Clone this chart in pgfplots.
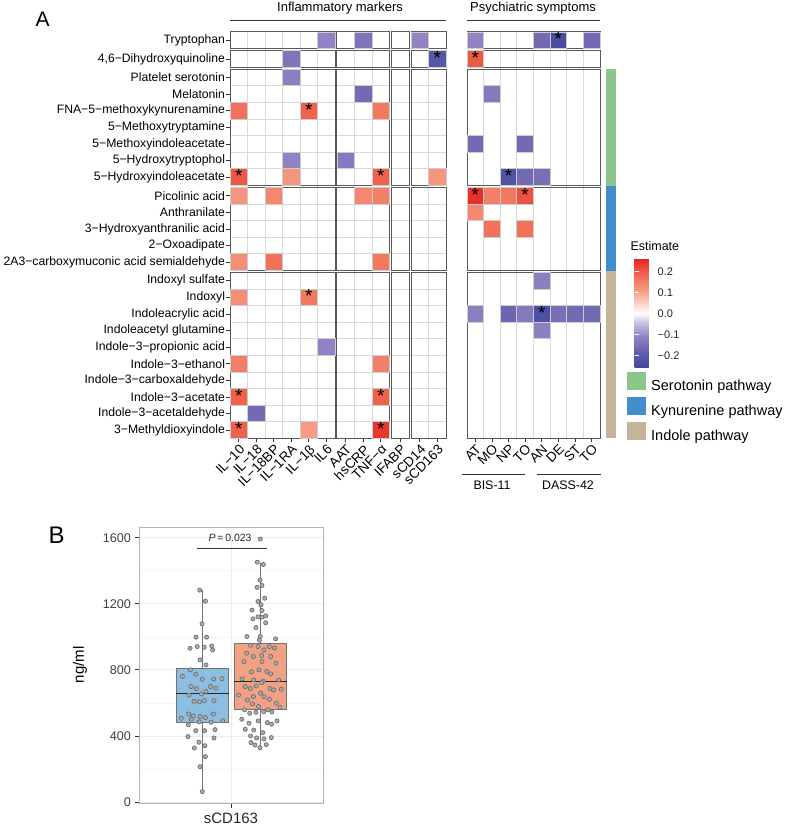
\documentclass[border=0pt]{standalone}
\usepackage{pgfplots}
\usepackage{pgfplotstable}
\pgfplotsset{compat=1.18}
\usepackage{fontspec}
\setmainfont{Liberation Sans}
\newcommand{\fsz}[1]{\fontsize{#1}{#1}\selectfont}
\definecolor{pgreen}{RGB}{141,198,139}
\definecolor{pblue}{RGB}{66,142,204}
\definecolor{ptan}{RGB}{196,181,153}
\definecolor{boxblue}{RGB}{139,190,225}
\definecolor{boxorange}{RGB}{242,162,132}
\pgfplotsset{colormap={est}{rgb255(0pt)=(62,72,157) rgb255(1.5pt)=(100,95,172) rgb255(3pt)=(150,135,198) rgb255(4.2pt)=(205,195,228) rgb255(5pt)=(255,255,255) rgb255(5.8pt)=(252,215,205) rgb255(7pt)=(246,160,138) rgb255(8.5pt)=(240,105,80) rgb255(10pt)=(232,37,37)}}
\pgfdeclareplotmark{cellL}{\pgfpathrectangle{\pgfpoint{-8.75pt}{-8.3pt}}{\pgfpoint{17.5pt}{16.6pt}}\pgfusepathqfillstroke}
\pgfdeclareplotmark{cellR}{\pgfpathrectangle{\pgfpoint{-8.3pt}{-8.3pt}}{\pgfpoint{16.6pt}{16.6pt}}\pgfusepathqfillstroke}
\newcommand{\fr}[4]{\draw[black!65, line width=1pt] (axis cs:#1,#3) rectangle (axis cs:#2,#4);}

\pgfplotstableread{
x y v
5.5 23.98 -0.11
7.614 23.98 -0.14
10.843 23.98 -0.11
3.5 22.86 -0.14
11.843 22.86 -0.21
3.5 21.74 -0.12
7.614 20.74 -0.16
0.5 19.74 0.17
4.5 19.74 0.19
8.614 19.74 0.16
3.5 16.74 -0.11
6.614 16.74 -0.13
0.5 15.74 0.20
3.5 15.74 0.12
8.614 15.74 0.19
11.843 15.74 0.12
0.5 14.62 0.12
2.5 14.62 0.14
7.614 14.62 0.14
8.614 14.62 0.15
0.5 10.62 0.13
2.5 10.62 0.17
8.614 10.62 0.16
0.5 8.5 0.13
4.5 8.5 0.16
5.5 5.5 -0.11
0.5 4.5 0.15
8.614 4.5 0.15
0.5 2.5 0.19
8.614 2.5 0.19
1.5 1.5 -0.16
0.5 0.5 0.19
4.5 0.5 0.11
8.614 0.5 0.24
}\leftdata
\pgfplotstableread{
x y
11.843 22.86
4.5 19.74
0.5 15.74
8.614 15.74
4.5 8.5
0.5 2.5
8.614 2.5
0.5 0.5
8.614 0.5
}\leftstars
\pgfplotstableread{
x y v
0.5 23.98 -0.11
4.5 23.98 -0.16
5.5 23.98 -0.24
7.5 23.98 -0.16
0.5 22.86 0.20
1.5 20.74 -0.13
0.5 17.74 -0.16
3.5 17.74 -0.16
2.5 15.74 -0.22
3.5 15.74 -0.16
4.5 15.74 -0.15
0.5 14.62 0.25
1.5 14.62 0.15
2.5 14.62 0.16
3.5 14.62 0.21
0.5 13.62 0.14
1.5 12.62 0.17
3.5 12.62 0.17
4.5 9.5 -0.12
0.5 7.5 -0.12
2.5 7.5 -0.17
3.5 7.5 -0.13
4.5 7.5 -0.23
5.5 7.5 -0.15
6.5 7.5 -0.16
7.5 7.5 -0.16
4.5 6.5 -0.12
}\rightdata
\pgfplotstableread{
x y
5.5 23.98
0.5 22.86
2.5 15.74
0.5 14.62
3.5 14.62
4.5 7.5
}\rightstars
\pgfplotstableread{
x y
0.796 1283
0.833 1216
0.811 1079
0.772 998
0.841 998
0.733 931
0.780 941
0.826 937
0.874 945
0.880 921
0.798 861
0.837 830
0.735 800
0.683 760
0.770 774
0.813 743
0.887 745
0.941 747
0.739 699
0.774 687
0.807 654
0.837 669
0.867 699
0.902 689
0.726 648
0.759 610
0.826 614
0.793 606
0.889 614
0.724 533
0.754 521
0.798 517
0.885 533
0.676 507
0.741 501
0.793 485
0.833 511
0.870 483
0.946 491
0.722 467
0.770 432
0.828 432
0.896 438
0.720 396
0.791 362
0.830 341
0.889 388
0.761 327
0.833 275
0.798 214
0.813 63
}\bluepts
\pgfplotstableread{
x y
1.191 1592
1.172 1452
1.211 1438
1.189 1343
1.202 1311
1.170 1299
1.176 1214
1.220 1234
1.196 1194
1.137 1162
1.202 1159
1.143 1109
1.176 1121
1.202 1119
1.226 1127
1.226 1085
1.163 1056
1.104 1002
1.191 1002
1.291 988
1.185 980
1.128 949
1.176 941
1.215 921
1.250 941
1.283 933
1.102 901
1.146 881
1.200 887
1.259 881
1.085 850
1.202 850
1.293 840
1.133 788
1.183 800
1.233 790
1.259 776
1.072 745
1.148 739
1.211 731
1.311 739
1.093 699
1.126 687
1.165 703
1.200 723
1.254 687
1.278 679
1.328 683
1.050 648
1.146 638
1.193 659
1.215 638
1.250 622
1.296 598
1.320 572
1.107 618
1.141 594
1.180 578
1.089 558
1.122 537
1.163 543
1.213 547
1.241 558
1.267 545
1.070 501
1.117 477
1.178 491
1.237 481
1.265 471
1.300 491
1.093 440
1.148 436
1.207 420
1.128 400
1.167 388
1.215 382
1.263 390
1.130 360
1.157 345
1.189 329
1.230 347
}\orangepts

\begin{document}
\begin{tikzpicture}
\path[use as bounding box, fill=white] (0,0) rectangle (784pt,832pt);

% ---------------- left heatmap ----------------
\begin{axis}[
  at={(230pt,393.6pt)}, anchor=south west,
  scale only axis, width=216pt, height=406.4pt,
  xmin=0, xmax=12.343, ymin=0, ymax=24.48,
  axis line style={draw=none}, clip=false,
  colormap name=est, point meta min=-0.26, point meta max=0.26,
  xtick={0.5,1.5,2.5,3.5,4.5,5.5,6.614,7.614,8.614,9.729,10.843,11.843},
  xticklabels={IL−10,IL−18,IL−18BP,IL−1RA,IL−1β,IL6,AAT,hsCRP,TNF−α,IFABP,sCD14,sCD163},
  ytick={0.5,1.5,2.5,3.5,4.5,5.5,6.5,7.5,8.5,9.5,10.62,11.62,12.62,13.62,14.62,15.74,16.74,17.74,18.74,19.74,20.74,21.74,22.86,23.98},
  yticklabels={3−Methyldioxyindole,Indole−3−acetaldehyde,Indole−3−acetate,Indole−3−carboxaldehyde,Indole−3−ethanol,Indole−3−propionic acid,Indoleacetyl glutamine,Indoleacrylic acid,Indoxyl,Indoxyl sulfate,2A3−carboxymuconic acid semialdehyde,2−Oxoadipate,3−Hydroxyanthranilic acid,Anthranilate,Picolinic acid,5−Hydroxyindoleacetate,5−Hydroxytryptophol,5−Methoxyindoleacetate,5−Methoxytryptamine,FNA−5−methoxykynurenamine,Melatonin,Platelet serotonin,{4,6−Dihydroxyquinoline},Tryptophan},
  minor xtick={1,2,3,4,5,7.114,8.114,11.343},
  minor ytick={1,2,3,4,5,6,7,8,9,11.12,12.12,13.12,14.12,16.24,17.24,18.24,19.24,20.24,21.24},
  xminorgrids, yminorgrids, minor grid style={gray!30, line width=0.8pt},
  minor tick length=0pt, major tick length=3.8pt, tick align=outside,
  xtick pos=left, ytick pos=left,
  tick style={black!80, line width=0.7pt},
  yticklabel style={font=\fsz{12.2}, inner sep=1pt},
  xticklabel style={font=\fsz{13.5}, rotate=45, anchor=north east, inner sep=1pt},
]
\addplot[scatter, only marks, mark=cellL, point meta=explicit, line width=0.8pt,
  scatter/use mapped color={draw=gray!40, fill=mapped color}]
  table[x=x, y=y, meta=v] {\leftdata};
\addplot[only marks, mark=none, nodes near coords={*},
  every node near coord/.append style={anchor=center, text=black, inner sep=0pt, yshift=1pt, font=\fsz{19}}]
  table[x=x, y=y] {\leftstars};
\fr{0}{6}{0}{10}\fr{6.114}{9.114}{0}{10}\fr{9.229}{10.229}{0}{10}\fr{10.343}{12.343}{0}{10}
\fr{0}{6}{10.12}{15.12}\fr{6.114}{9.114}{10.12}{15.12}\fr{9.229}{10.229}{10.12}{15.12}\fr{10.343}{12.343}{10.12}{15.12}
\fr{0}{6}{15.24}{22.24}\fr{6.114}{9.114}{15.24}{22.24}\fr{9.229}{10.229}{15.24}{22.24}\fr{10.343}{12.343}{15.24}{22.24}
\fr{0}{6}{22.36}{23.36}\fr{6.114}{9.114}{22.36}{23.36}\fr{9.229}{10.229}{22.36}{23.36}\fr{10.343}{12.343}{22.36}{23.36}
\fr{0}{6}{23.48}{24.48}\fr{6.114}{9.114}{23.48}{24.48}\fr{9.229}{10.229}{23.48}{24.48}\fr{10.343}{12.343}{23.48}{24.48}
\end{axis}

% ---------------- right heatmap ----------------
\begin{axis}[
  at={(467pt,393.6pt)}, anchor=south west,
  scale only axis, width=133pt, height=406.4pt,
  xmin=0, xmax=8, ymin=0, ymax=24.48,
  axis line style={draw=none}, clip=false,
  colormap name=est, point meta min=-0.26, point meta max=0.26,
  xtick={0.5,1.5,2.5,3.5,4.5,5.5,6.5,7.5},
  xticklabels={AT,MO,NP,TO,AN,DE,ST,TO},
  ytick=\empty,
  minor xtick={1,2,3,4,5,6,7},
  minor ytick={1,2,3,4,5,6,7,8,9,11.12,12.12,13.12,14.12,16.24,17.24,18.24,19.24,20.24,21.24},
  xminorgrids, yminorgrids, minor grid style={gray!30, line width=0.8pt},
  minor tick length=0pt, major tick length=3.8pt, tick align=outside,
  xtick pos=left,
  tick style={black!80, line width=0.7pt},
  xticklabel style={font=\fsz{13.5}, rotate=45, anchor=north east, inner sep=1pt},
  colorbar,
  colorbar style={
    at={(parent axis.north east)}, anchor=north west, xshift=26pt, yshift=-227pt,
    scale only axis, width=21pt, height=109pt,
    ytick={-0.2,-0.1,0,0.1,0.2}, yticklabels={−0.2,−0.1,0.0,0.1,0.2},
    yticklabel pos=right, ytick pos=both,
    major tick length=4pt, tick align=inside, tick style={white, line width=0.8pt},
    axis line style={draw=none},
    yticklabel style={font=\fsz{11}, text=black!85, inner sep=2pt},
  },
]
\addplot[scatter, only marks, mark=cellR, point meta=explicit, line width=0.8pt,
  scatter/use mapped color={draw=gray!40, fill=mapped color}]
  table[x=x, y=y, meta=v] {\rightdata};
\addplot[only marks, mark=none, nodes near coords={*},
  every node near coord/.append style={anchor=center, text=black, inner sep=0pt, yshift=1pt, font=\fsz{19}}]
  table[x=x, y=y] {\rightstars};
\fr{0}{8}{0}{10}\fr{0}{8}{10.12}{15.12}\fr{0}{8}{15.24}{22.24}\fr{0}{8}{22.36}{23.36}\fr{0}{8}{23.48}{24.48}
\end{axis}

% ---------------- pathway strip ----------------
\begin{axis}[
  at={(605.5pt,393.6pt)}, anchor=south west,
  scale only axis, width=10.5pt, height=406.4pt,
  xmin=0, xmax=1, ymin=0, ymax=24.48, hide axis, clip=false,
  legend style={at={(axis description cs:1,0)}, anchor=south west, xshift=10.5pt, yshift=-3.5pt,
    draw=none, fill=none, inner sep=0pt, row sep=5pt, column sep=5pt,
    font=\fsz{14.5}, nodes={inner sep=0pt}},
  legend cell align=left,
  legend image code/.code={\fill[#1] (0pt,-4pt) rectangle (19.5pt,14pt);},
]
\addplot[fill=pgreen, draw=none] coordinates {(0,15.18) (1,15.18) (1,22.24) (0,22.24)} -- cycle;
\addlegendentry{Serotonin pathway}
\addplot[fill=pblue, draw=none] coordinates {(0,10.06) (1,10.06) (1,15.18) (0,15.18)} -- cycle;
\addlegendentry{Kynurenine pathway}
\addplot[fill=ptan, draw=none] coordinates {(0,0) (1,0) (1,10.06) (0,10.06)} -- cycle;
\addlegendentry{Indole pathway}
\end{axis}

% ---------------- headers ----------------
\node[anchor=base west, font=\fsz{21}] at (32pt,805pt) {A};
\node[anchor=base, font=\fsz{13}] at (340pt,820pt) {Inflammatory markers};
\draw[black!80, line width=1pt] (230pt,811pt) -- (446pt,811pt);
\node[anchor=base, font=\fsz{13}] at (533pt,820pt) {Psychiatric symptoms};
\draw[black!80, line width=1pt] (467pt,811pt) -- (600pt,811pt);
\draw[black!80, line width=1pt] (462pt,357pt) -- (525pt,357pt);
\draw[black!80, line width=1pt] (537pt,357pt) -- (601pt,357pt);
\node[anchor=base, font=\fsz{12.4}] at (492pt,342pt) {BIS-11};
\node[anchor=base, font=\fsz{12.4}] at (568pt,342pt) {DASS-42};
\node[anchor=base west, font=\fsz{12.5}] at (627pt,581pt) {Estimate};
\node[anchor=base west, font=\fsz{24}] at (45pt,288pt) {B};

% ---------------- panel B ----------------
\begin{axis}[
  at={(139pt,29pt)}, anchor=south west,
  scale only axis, width=184pt, height=276pt,
  xmin=0.4, xmax=1.6, ymin=-6, ymax=1665,
  xtick={1}, xticklabels={sCD163},
  ytick={0,400,800,1200,1600}, yticklabels={0,400,800,1200,1600},
  minor ytick={200,600,1000,1400},
  xmajorgrids, ymajorgrids, yminorgrids,
  major grid style={gray!15, line width=0.8pt}, minor grid style={gray!8, line width=0.6pt},
  axis line style={gray!60, line width=0.8pt},
  tick align=outside, xtick pos=left, ytick pos=left,
  major tick length=4.5pt, minor tick length=0pt,
  tick style={black!80, line width=0.8pt},
  yticklabel style={font=\fsz{12.6}, text=black!75},
  xticklabel style={font=\fsz{15}, text=black!85, yshift=-2pt},
  ylabel={ng/ml}, ylabel style={font=\fsz{15}, at={(axis description cs:-0.32,0.5)}, anchor=center},
  clip=false,
]
% whiskers
\addplot[black!55, line width=0.7pt] coordinates {(0.813,62) (0.813,480)};
\addplot[black!55, line width=0.7pt] coordinates {(0.813,808) (0.813,1285)};
\addplot[black!55, line width=0.7pt] coordinates {(1.191,329) (1.191,562)};
\addplot[black!55, line width=0.7pt] coordinates {(1.191,962) (1.191,1450)};
% boxes
\addplot[fill=boxblue, draw=black!55, line width=0.7pt] coordinates {(0.641,480) (0.985,480) (0.985,808) (0.641,808)} -- cycle;
\addplot[fill=boxorange, draw=black!55, line width=0.7pt] coordinates {(1.019,562) (1.363,562) (1.363,962) (1.019,962)} -- cycle;
% medians
\addplot[black!85, line width=0.9pt] coordinates {(0.641,659) (0.985,659)};
\addplot[black!85, line width=0.9pt] coordinates {(1.019,731) (1.363,731)};
% points
\addplot[only marks, mark=*, mark size=2.1pt, mark options={fill=gray!65, draw=black!60, line width=0.6pt}]
  table[x=x, y=y] {\bluepts};
\addplot[only marks, mark=*, mark size=2.1pt, mark options={fill=gray!65, draw=black!60, line width=0.6pt}]
  table[x=x, y=y] {\orangepts};
\addplot[black!80, line width=0.8pt] coordinates {(0.776,1537) (1.233,1537)};
\node[font=\fsz{10.5}, text=black!85] at (axis cs:0.994,1597) {\textit{P}\,=\,0.023};
\end{axis}
\end{tikzpicture}
\end{document}
